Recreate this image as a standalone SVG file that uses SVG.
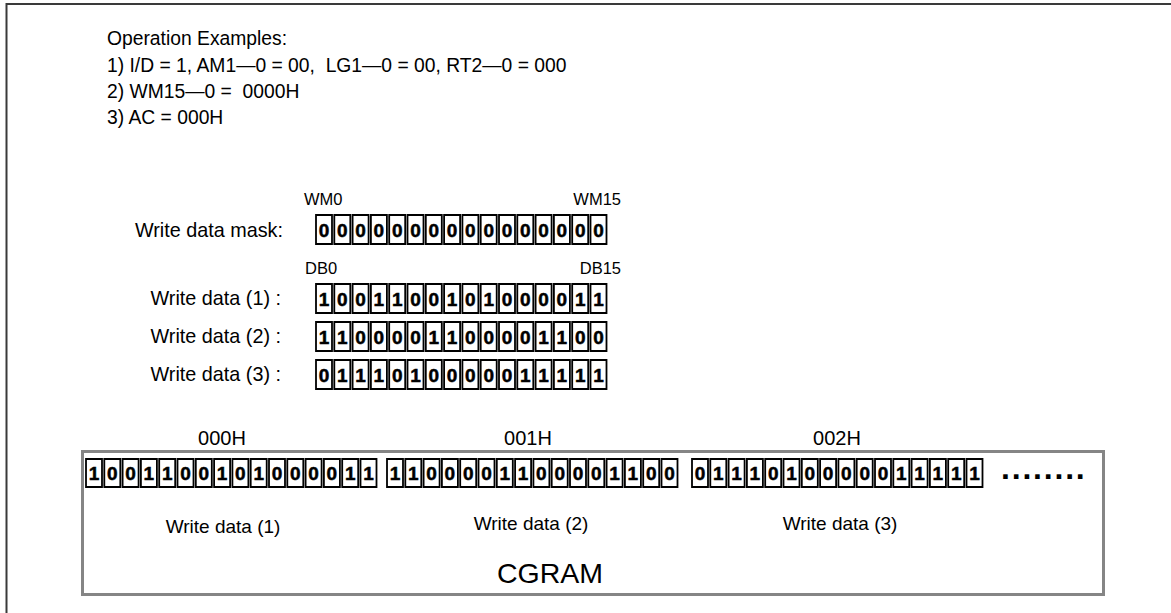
<svg xmlns="http://www.w3.org/2000/svg" width="1171" height="613" viewBox="0 0 1171 613">
<style>
.t{font-family:"Liberation Sans",Arial,sans-serif;fill:#000;white-space:pre}
.op{font-size:19.3px}
.lbl{font-size:19.8px}
.bit{font-size:16.5px}
.d{font-family:"Liberation Sans",Arial,sans-serif;font-size:19px;font-weight:bold;text-anchor:middle;fill:#000;stroke:#000;stroke-width:0.5}
.cell{fill:#fff;stroke:#000;stroke-width:1.8}
.addr{font-size:20px;text-anchor:middle}
.wd{font-size:19px;text-anchor:middle}
</style>
<rect width="1171" height="613" fill="#fff"/>
<rect x="6.5" y="4" width="1200" height="700" fill="none" stroke="#3a3a3a" stroke-width="2"/>

<g id="operation-examples" class="t op">
<text x="107" y="45">Operation Examples:</text>
<text x="107" y="72" xml:space="preserve">1) I/D = 1, AM1—0 = 00,  LG1—0 = 00, RT2—0 = 000</text>
<text x="107" y="98" xml:space="preserve">2) WM15—0 =  0000H</text>
<text x="107" y="124">3) AC = 000H</text>
</g>

<g id="write-data-mask">
<text class="t bit" x="304" y="205">WM0</text>
<text class="t bit" x="621" y="205" text-anchor="end">WM15</text>
<text class="t lbl" x="283" y="237" text-anchor="end">Write data mask:</text>
<path class="cell" d="M316,215h16v29h-16z m18.3,0h16v29h-16z m18.3,0h16v29h-16z m18.3,0h16v29h-16z m18.3,0h16v29h-16z m18.3,0h16v29h-16z m18.3,0h16v29h-16z m18.3,0h16v29h-16z m18.3,0h16v29h-16z m18.3,0h16v29h-16z m18.3,0h16v29h-16z m18.3,0h16v29h-16z m18.3,0h16v29h-16z m18.3,0h16v29h-16z m18.3,0h16v29h-16z m18.3,0h16v29h-16z"/>
<text class="d" x="324 342.3 360.6 378.9 397.2 415.5 433.8 452.1 470.4 488.7 507 525.3 543.6 561.9 580.2 598.5" y="236.5">0000000000000000</text>
</g>

<g id="write-data-1">
<text class="t bit" x="305" y="274">DB0</text>
<text class="t bit" x="621" y="274" text-anchor="end">DB15</text>
<text class="t lbl" x="281" y="305" text-anchor="end">Write data (1) :</text>
<path class="cell" d="M316,284h16v29h-16z m18.3,0h16v29h-16z m18.3,0h16v29h-16z m18.3,0h16v29h-16z m18.3,0h16v29h-16z m18.3,0h16v29h-16z m18.3,0h16v29h-16z m18.3,0h16v29h-16z m18.3,0h16v29h-16z m18.3,0h16v29h-16z m18.3,0h16v29h-16z m18.3,0h16v29h-16z m18.3,0h16v29h-16z m18.3,0h16v29h-16z m18.3,0h16v29h-16z m18.3,0h16v29h-16z"/>
<text class="d" x="324 342.3 360.6 378.9 397.2 415.5 433.8 452.1 470.4 488.7 507 525.3 543.6 561.9 580.2 598.5" y="305.5">1001100101000011</text>
</g>

<g id="write-data-2">
<text class="t lbl" x="281" y="343" text-anchor="end">Write data (2) :</text>
<path class="cell" d="M316,322h16v29h-16z m18.3,0h16v29h-16z m18.3,0h16v29h-16z m18.3,0h16v29h-16z m18.3,0h16v29h-16z m18.3,0h16v29h-16z m18.3,0h16v29h-16z m18.3,0h16v29h-16z m18.3,0h16v29h-16z m18.3,0h16v29h-16z m18.3,0h16v29h-16z m18.3,0h16v29h-16z m18.3,0h16v29h-16z m18.3,0h16v29h-16z m18.3,0h16v29h-16z m18.3,0h16v29h-16z"/>
<text class="d" x="324 342.3 360.6 378.9 397.2 415.5 433.8 452.1 470.4 488.7 507 525.3 543.6 561.9 580.2 598.5" y="343.5">1100001100001100</text>
</g>

<g id="write-data-3">
<text class="t lbl" x="281" y="381" text-anchor="end">Write data (3) :</text>
<path class="cell" d="M316,360h16v29h-16z m18.3,0h16v29h-16z m18.3,0h16v29h-16z m18.3,0h16v29h-16z m18.3,0h16v29h-16z m18.3,0h16v29h-16z m18.3,0h16v29h-16z m18.3,0h16v29h-16z m18.3,0h16v29h-16z m18.3,0h16v29h-16z m18.3,0h16v29h-16z m18.3,0h16v29h-16z m18.3,0h16v29h-16z m18.3,0h16v29h-16z m18.3,0h16v29h-16z m18.3,0h16v29h-16z"/>
<text class="d" x="324 342.3 360.6 378.9 397.2 415.5 433.8 452.1 470.4 488.7 507 525.3 543.6 561.9 580.2 598.5" y="381.5">0111010000011111</text>
</g>

<g id="cgram">
<rect x="82.5" y="451.5" width="1021" height="143" fill="none" stroke="#858585" stroke-width="3"/>
<text class="t addr" x="222" y="445">000H</text>
<text class="t addr" x="528" y="445">001H</text>
<text class="t addr" x="837" y="445">002H</text>
<path class="cell" d="M86,459h16v28h-16z m18.3,0h16v28h-16z m18.3,0h16v28h-16z m18.3,0h16v28h-16z m18.3,0h16v28h-16z m18.3,0h16v28h-16z m18.3,0h16v28h-16z m18.3,0h16v28h-16z m18.3,0h16v28h-16z m18.3,0h16v28h-16z m18.3,0h16v28h-16z m18.3,0h16v28h-16z m18.3,0h16v28h-16z m18.3,0h16v28h-16z m18.3,0h16v28h-16z m18.3,0h16v28h-16z"/>
<text class="d" x="94 112.3 130.6 148.9 167.2 185.5 203.8 222.1 240.4 258.7 277 295.3 313.6 331.9 350.2 368.5" y="480">1001100101000011</text>
<path class="cell" d="M387,459h16v28h-16z m18.3,0h16v28h-16z m18.3,0h16v28h-16z m18.3,0h16v28h-16z m18.3,0h16v28h-16z m18.3,0h16v28h-16z m18.3,0h16v28h-16z m18.3,0h16v28h-16z m18.3,0h16v28h-16z m18.3,0h16v28h-16z m18.3,0h16v28h-16z m18.3,0h16v28h-16z m18.3,0h16v28h-16z m18.3,0h16v28h-16z m18.3,0h16v28h-16z m18.3,0h16v28h-16z"/>
<text class="d" x="395 413.3 431.6 449.9 468.2 486.5 504.8 523.1 541.4 559.7 578 596.3 614.6 632.9 651.2 669.5" y="480">1100001100001100</text>
<path class="cell" d="M692,459h16v28h-16z m18.3,0h16v28h-16z m18.3,0h16v28h-16z m18.3,0h16v28h-16z m18.3,0h16v28h-16z m18.3,0h16v28h-16z m18.3,0h16v28h-16z m18.3,0h16v28h-16z m18.3,0h16v28h-16z m18.3,0h16v28h-16z m18.3,0h16v28h-16z m18.3,0h16v28h-16z m18.3,0h16v28h-16z m18.3,0h16v28h-16z m18.3,0h16v28h-16z m18.3,0h16v28h-16z"/>
<text class="d" x="700 718.3 736.6 754.9 773.2 791.5 809.8 828.1 846.4 864.7 883 901.3 919.6 937.9 956.2 974.5" y="480">0111010000011111</text>
<text class="t" x="1001" y="479" font-size="32" font-weight="bold" letter-spacing="1.8">........</text>
<text class="t wd" x="223" y="533">Write data (1)</text>
<text class="t wd" x="531" y="530">Write data (2)</text>
<text class="t wd" x="840" y="530">Write data (3)</text>
<text class="t" x="550" y="583" font-size="28.5" text-anchor="middle">CGRAM</text>
</g>
</svg>
